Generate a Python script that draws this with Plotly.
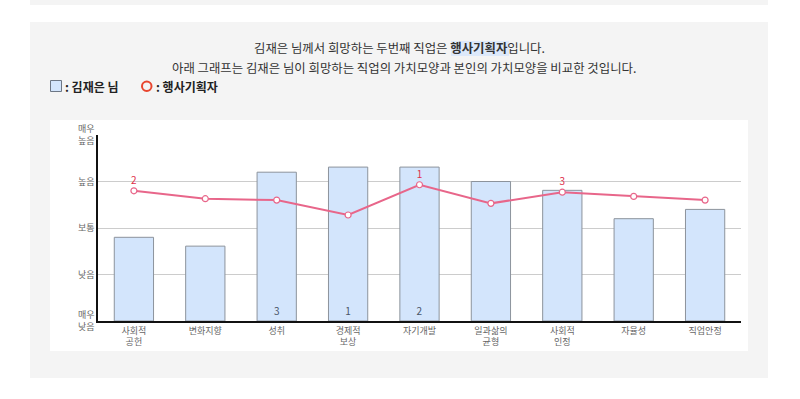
import plotly.graph_objects as go

categories = ["사회적<br>공헌", "변화지향", "성취", "경제적<br>보상", "자기개발", "일과삶의<br>균형", "사회적<br>인정", "자율성", "직업안정"]
my_values = [1.80, 1.61, 3.20, 3.31, 3.31, 3.00, 2.81, 2.20, 2.40]
my_rank = ["", "", "3", "1", "2", "", "", "", ""]
job_values = [2.80, 2.63, 2.60, 2.28, 2.93, 2.53, 2.77, 2.68, 2.60]
job_rank = ["2", "", "", "", "1", "", "3", "", ""]
y_ticks = [0, 1, 2, 3, 4]
y_labels = ["매우<br>낮음", "낮음", "보통", "높음", "매우<br>높음"]

W, H = 800, 399
def px(x): return x / W
def py(y): return 1 - y / H

FONT = "Noto Sans CJK KR, Malgun Gothic, sans-serif"

fig = go.Figure()
fig.add_trace(go.Bar(
    x=categories, y=my_values, text=my_rank, textposition="inside",
    insidetextanchor="start", textangle=0,
    textfont=dict(size=10, color="#4a5568", family=FONT),
    marker=dict(color="#d3e5fc", line=dict(color="#8c939c", width=1)),
    width=0.55, showlegend=False, hoverinfo="skip", cliponaxis=False))
fig.add_trace(go.Scatter(
    x=categories, y=job_values, mode="lines+markers+text", text=job_rank,
    textposition="top center", textfont=dict(size=10, color="#e0304a", family=FONT),
    line=dict(color="#e8668a", width=2),
    marker=dict(size=6, color="white", line=dict(color="#e8668a", width=1.2)),
    showlegend=False, hoverinfo="skip", cliponaxis=False))

shapes = [
    dict(type="rect", xref="paper", yref="paper", x0=px(30), x1=px(768), y0=py(0), y1=py(5),
         fillcolor="#f4f4f4", line=dict(width=0), layer="below"),
    dict(type="rect", xref="paper", yref="paper", x0=px(30), x1=px(768), y0=py(22), y1=py(378),
         fillcolor="#f4f4f4", line=dict(width=0), layer="below"),
    dict(type="rect", xref="paper", yref="paper", x0=px(50), x1=px(748), y0=py(120), y1=py(351),
         fillcolor="white", line=dict(width=0), layer="below"),
    # highlight behind job name
    dict(type="rect", xref="paper", yref="paper", x0=px(451), x1=px(509), y0=py(41), y1=py(56),
         fillcolor="#dde9fa", line=dict(width=0), layer="below"),
    # legend box
    dict(type="rect", xref="paper", yref="paper", x0=px(50.5), x1=px(61.5), y0=py(80.5), y1=py(91.5),
         fillcolor="#d3e5fc", line=dict(color="#6d7785", width=1)),
    # legend circle
    dict(type="circle", xref="paper", yref="paper", x0=px(142), x1=px(151.5), y0=py(81.5), y1=py(91),
         fillcolor="rgba(0,0,0,0)", line=dict(color="#e8452e", width=2)),
]

annotations = [
    dict(text="김재은 님께서 희망하는 두번째 직업은 <b>행사기획자</b>입니다.", x=px(399.5), y=py(48),
         xref="paper", yref="paper", showarrow=False, xanchor="center", yanchor="middle",
         font=dict(size=12.4, color="#333333", family=FONT)),
    dict(text="아래 그래프는 김재은 님이 희망하는 직업의 가치모양과 본인의 가치모양을 비교한 것입니다.", x=px(403.5), y=py(68),
         xref="paper", yref="paper", showarrow=False, xanchor="center", yanchor="middle",
         font=dict(size=12.4, color="#333333", family=FONT)),
    dict(text="<b>: 김재은 님</b>", x=px(63), y=py(86), xref="paper", yref="paper", showarrow=False,
         xanchor="left", yanchor="middle", font=dict(size=12, color="#222222", family=FONT)),
    dict(text="<b>: 행사기획자</b>", x=px(154), y=py(86), xref="paper", yref="paper", showarrow=False,
         xanchor="left", yanchor="middle", font=dict(size=12, color="#222222", family=FONT)),
]

fig.update_layout(
    width=W, height=H, margin=dict(l=0, r=0, t=0, b=0, autoexpand=False),
    paper_bgcolor="white", plot_bgcolor="rgba(0,0,0,0)",
    shapes=shapes, annotations=annotations, bargap=0.45,
    xaxis=dict(domain=[px(98), px(741)], showgrid=False, showline=True, linecolor="#111111",
               linewidth=1.5, ticks="", tickfont=dict(size=9, color="#666666", family=FONT),
               fixedrange=True, automargin=False),
    yaxis=dict(domain=[py(321), py(135)], range=[0, 4], tickvals=y_ticks, ticktext=y_labels,
               showgrid=True, gridcolor="#cccccc", gridwidth=1, showline=True, linecolor="#111111",
               linewidth=1.5, ticks="", tickfont=dict(size=9, color="#666666", family=FONT),
               zeroline=False, fixedrange=True, automargin=False),
)

fig.write_html("out.html")
